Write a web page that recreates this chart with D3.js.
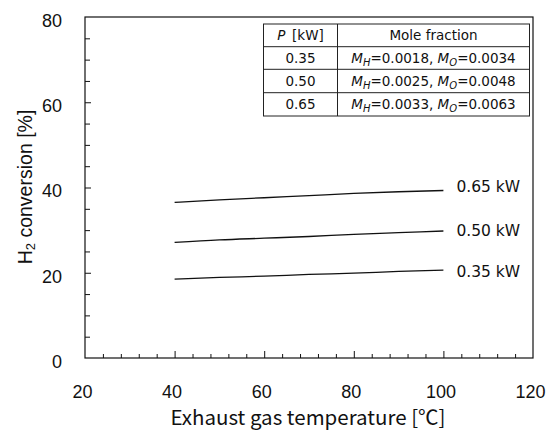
<!DOCTYPE html>
<html>
<head>
<meta charset="utf-8">
<script src="https://cdn.jsdelivr.net/npm/d3@7"></script>
<style>
  html, body { margin: 0; padding: 0; background: #fff; }
  svg { display: block; }
</style>
</head>
<body>
<svg id="chart" width="554" height="430"></svg>
<script>
// Exhaust gas temperature (°C) at which conversion was evaluated
const temperatures = [40, 50, 60, 70, 80, 90, 100];

// H2 conversion (%) for each plasma power
const seriesNames = ["0.35 kW", "0.50 kW", "0.65 kW"];
const conv035 = [18.5, 18.9, 19.2, 19.6, 19.9, 20.3, 20.6];
const conv050 = [27.1, 27.7, 28.1, 28.5, 29.0, 29.4, 29.8];
const conv065 = [36.5, 37.1, 37.6, 38.1, 38.6, 39.0, 39.3];
// vertical placement of each series label, in % conversion
const labelLevels = [20.3, 30.0, 40.2];

// Axis ticks
const xMajorTicks = [20, 40, 60, 80, 100, 120];
const yMajorTicks = [0, 20, 40, 60, 80];

// Inset table: power and the corresponding mole fractions
const tablePower = ["0.35", "0.50", "0.65"];
const tableMH = ["0.0018", "0.0025", "0.0033"];
const tableMO = ["0.0034", "0.0048", "0.0063"];

const svg = d3.select("#chart");
const plotLeft = 85, plotRight = 533, plotTop = 17, plotBottom = 358;

const x = d3.scaleLinear().domain([20, 120]).range([plotLeft, plotRight]);
const y = d3.scaleLinear().domain([0, 80]).range([plotBottom, plotTop]);

const tickFont = "'Liberation Sans', Arial, sans-serif";
const titleFont = "'Noto Sans CJK JP', 'Liberation Sans', sans-serif";
const tableFont = "'DejaVu Sans', sans-serif";

// minor ticks
const xMinor = d3.range(20, 120.01, 4).filter(v => !xMajorTicks.includes(v));
const yMinor = d3.range(0, 80.01, 5).filter(v => !yMajorTicks.includes(v));

const gxMinor = svg.append("g").attr("transform", `translate(0,${plotBottom})`)
  .call(d3.axisBottom(x).tickValues(xMinor).tickSize(-4).tickFormat(""));
const gyMinor = svg.append("g").attr("transform", `translate(${plotLeft},0)`)
  .call(d3.axisLeft(y).tickValues(yMinor).tickSize(-5).tickFormat(""));

const gx = svg.append("g").attr("transform", `translate(0,${plotBottom})`)
  .call(d3.axisBottom(x).tickValues(xMajorTicks).tickSize(-7).tickPadding(27).tickFormat(d3.format("d")));
const gy = svg.append("g").attr("transform", `translate(${plotLeft},0)`)
  .call(d3.axisLeft(y).tickValues(yMajorTicks).tickSize(-6).tickPadding(23).tickFormat(d3.format("d")));

[gxMinor, gyMinor, gx, gy].forEach(g => {
  g.selectAll("line").attr("stroke", "#111").attr("stroke-width", 1);
  g.select(".domain").remove();
});
gx.selectAll("text").attr("font-family", tickFont).attr("font-size", 18).attr("fill", "#111").attr("dx", -3);
gy.selectAll("text").attr("font-family", tickFont).attr("font-size", 18).attr("fill", "#111").attr("dy", "0.52em");

// end ticks coincide with the frame
gx.selectAll(".tick").filter(d => d === 120 || d === 20).select("line").remove();
gy.selectAll(".tick").filter(d => d === 0 || d === 80).select("line").remove();

// plot frame
svg.append("rect")
  .attr("x", plotLeft).attr("y", plotTop)
  .attr("width", plotRight - plotLeft).attr("height", plotBottom - plotTop)
  .attr("fill", "none").attr("stroke", "#111").attr("stroke-width", 1.2);

// series lines
const seriesData = [conv035, conv050, conv065];
const line = d3.line().x((d, i) => x(temperatures[i])).y(d => y(d)).curve(d3.curveMonotoneX);
svg.append("g").selectAll("path").data(seriesData).join("path")
  .attr("d", line)
  .attr("fill", "none").attr("stroke", "#111").attr("stroke-width", 1.3);

svg.append("g").selectAll("text").data(seriesNames).join("text")
  .attr("x", x(temperatures[temperatures.length - 1]) + 13)
  .attr("y", (d, i) => y(labelLevels[i]))
  .attr("dy", "0.36em")
  .attr("font-family", tableFont).attr("font-size", 15.5).attr("fill", "#111")
  .text(d => d);

// axis titles
svg.append("text")
  .attr("x", (plotLeft + plotRight) / 2 - 1).attr("y", 425)
  .attr("text-anchor", "middle")
  .attr("font-family", titleFont).attr("font-size", 20.5).attr("fill", "#111")
  .text("Exhaust gas temperature [℃]");

const yTitle = svg.append("text")
  .attr("transform", "translate(32,187) rotate(-90)")
  .attr("text-anchor", "middle")
  .attr("font-family", tickFont).attr("font-size", 19.5).attr("fill", "#111");
yTitle.append("tspan").text("H");
yTitle.append("tspan").attr("font-size", 13).attr("dy", 3).text("2");
yTitle.append("tspan").attr("dy", -3).text(" conversion [%]");

// inset table
const tLeft = 263.5, tRight = 529.5, tDiv = 337.5;
const rowEdges = [24, 46.7, 69.3, 92.7, 116];
const tab = svg.append("g");
tab.append("rect").attr("x", tLeft).attr("y", rowEdges[0])
  .attr("width", tRight - tLeft).attr("height", rowEdges[4] - rowEdges[0])
  .attr("fill", "#fff").attr("stroke", "#222").attr("stroke-width", 1);
tab.selectAll("line.row").data(rowEdges.slice(1, 4)).join("line")
  .attr("x1", tLeft).attr("x2", tRight).attr("y1", d => d).attr("y2", d => d)
  .attr("stroke", "#222").attr("stroke-width", 1);
tab.append("line").attr("x1", tDiv).attr("x2", tDiv)
  .attr("y1", rowEdges[0]).attr("y2", rowEdges[4])
  .attr("stroke", "#222").attr("stroke-width", 1);

const c1 = (tLeft + tDiv) / 2, c2 = (tDiv + tRight) / 2;
const rowMid = i => (rowEdges[i] + rowEdges[i + 1]) / 2;
const cellText = (cx, cy) => tab.append("text")
  .attr("x", cx).attr("y", cy).attr("dy", "0.36em")
  .attr("text-anchor", "middle")
  .attr("font-family", tableFont).attr("font-size", 13.5).attr("fill", "#111");

const h1 = cellText(c1, rowMid(0));
h1.append("tspan").attr("font-style", "italic").text("P");
h1.append("tspan").text("\u2002[kW]");
cellText(c2, rowMid(0)).text("Mole fraction");

tablePower.forEach((p, i) => {
  cellText(c1, rowMid(i + 1)).text(p);
  const t = cellText(c2, rowMid(i + 1));
  t.append("tspan").attr("font-style", "italic").text("M");
  t.append("tspan").attr("font-style", "italic").attr("font-size", 10).attr("dy", 3).text("H");
  t.append("tspan").attr("dy", -3).text("=" + tableMH[i] + ", ");
  t.append("tspan").attr("font-style", "italic").text("M");
  t.append("tspan").attr("font-style", "italic").attr("font-size", 10).attr("dy", 3).text("O");
  t.append("tspan").attr("dy", -3).text("=" + tableMO[i]);
});
</script>
</body>
</html>
